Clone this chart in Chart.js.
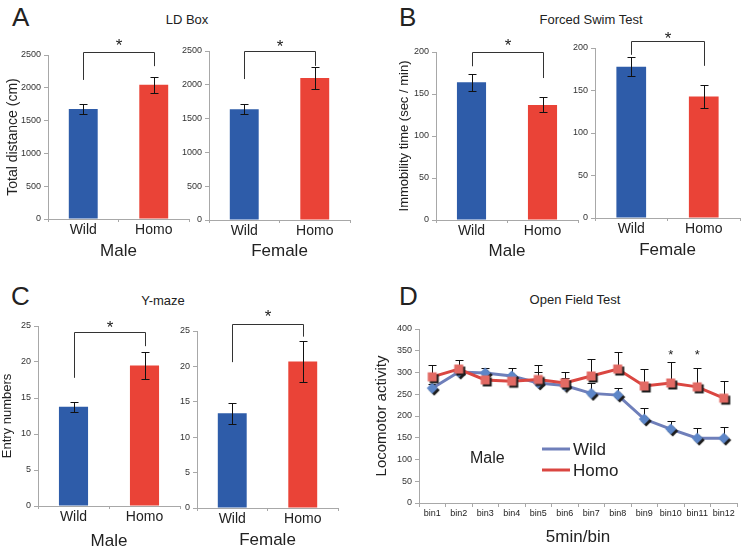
<!DOCTYPE html>
<html>
<head>
<meta charset="utf-8">
<script src="https://cdn.jsdelivr.net/npm/chart.js@4.4.1/dist/chart.umd.min.js"></script>
<style>
  body { margin: 0; background: #fff; }
  #fig { position: relative; width: 745px; height: 552px; overflow: hidden;
         font-family: 'Liberation Sans', Arial, sans-serif; color: #222; }
  #fig canvas { position: absolute; }
  .letter { position: absolute; font-size: 26px; line-height: 1; }
  .title { position: absolute; font-size: 13px; transform: translate(-50%, -50%); white-space: nowrap; }
</style>
</head>
<body>
<div id="fig">
  <div class="letter" style="left:12px;top:4px">A</div>
  <div class="letter" style="left:399px;top:4px">B</div>
  <div class="letter" style="left:11px;top:283px">C</div>
  <div class="letter" style="left:399px;top:283px">D</div>
  <div class="title" style="left:187px;top:19px">LD Box</div>
  <div class="title" style="left:591px;top:19px">Forced Swim Test</div>
  <div class="title" style="left:163px;top:300px">Y-maze</div>
  <div class="title" style="left:575px;top:299px">Open Field Test</div>

  <canvas id="ld-male"></canvas>
  <canvas id="ld-female"></canvas>
  <canvas id="fst-male"></canvas>
  <canvas id="fst-female"></canvas>
  <canvas id="ym-male"></canvas>
  <canvas id="ym-female"></canvas>
  <canvas id="oft"></canvas>
</div>
<script>
'use strict';

// ─── data ─────────────────────────────────────────────────────
const groups = ['Wild', 'Homo'];

const ldMale      = [1675, 2045];
const ldMaleErr   = [80, 120];
const ldFemale    = [1640, 2100];
const ldFemaleErr = [75, 160];

const fstMale      = [164, 137];
const fstMaleErr   = [10, 9];
const fstFemale    = [178, 143];
const fstFemaleErr = [11, 13];

const ymMale      = [13.8, 19.5];
const ymMaleErr   = [0.7, 1.9];
const ymFemale    = [13.4, 20.7];
const ymFemaleErr = [1.5, 2.9];

// significance brackets: [bar top, left leg end, right leg end, star]
const ldMaleSig    = [2550, 2120, 2330, 2700];
const ldFemaleSig  = [2500, 2085, 2280, 2630];
const fstMaleSig   = [200, 183, 169, 212];
const fstFemaleSig = [208, 192, 179, 216];
const ymMaleSig    = [24.2, 17.8, 22.2, 25.3];
const ymFemaleSig  = [26.0, 20.6, 24.2, 27.6];

const bins       = ['bin1', 'bin2', 'bin3', 'bin4', 'bin5', 'bin6', 'bin7', 'bin8', 'bin9', 'bin10', 'bin11', 'bin12'];
const oftWild    = [264, 301, 299, 292, 276, 270, 252, 248, 193, 170, 149, 149];
const oftWildErr = [10, 8, 11, 18, 25, 18, 25, 16, 25, 19, 23, 26];
const oftHomo    = [290, 308, 283, 280, 284, 276, 292, 308, 269, 276, 267, 241];
const oftHomoErr = [27, 21, 15, 15, 34, 25, 39, 39, 39, 48, 43, 39];
const oftSigBins = ['bin10', 'bin11'];
const oftSigLevel = 347;

// ─── styling ──────────────────────────────────────────────────
const FONT = "'Liberation Sans', Arial, sans-serif";
const BLUE = '#2e5ca9';
const RED  = '#ea4337';
const AXIS = '#a8a8a8';

Chart.defaults.font.family = FONT;
Chart.defaults.color = '#222';
Chart.defaults.animation = false;

// ─── plugins ──────────────────────────────────────────────────
function drawErrors(chart, opts) {
  const { ctx } = chart;
  const y = chart.scales.y;
  ctx.save();
  ctx.strokeStyle = '#111';
  ctx.lineWidth = 1;
  chart.data.datasets.forEach((ds, di) => {
    if (!ds.errors) return;
    chart.getDatasetMeta(di).data.forEach((el, i) => {
      const v = ds.data[i], e = ds.errors[i];
      const x = Math.round(el.x) + 0.5;
      const top = Math.round(y.getPixelForValue(v + e)) + 0.5;
      const bot = Math.round(y.getPixelForValue(opts.upOnly ? v : v - e)) + 0.5;
      ctx.beginPath();
      ctx.moveTo(x, bot);
      ctx.lineTo(x, top);
      ctx.moveTo(x - opts.cap, top);
      ctx.lineTo(x + opts.cap, top);
      if (!opts.upOnly) {
        ctx.moveTo(x - opts.cap, bot);
        ctx.lineTo(x + opts.cap, bot);
      }
      ctx.stroke();
    });
  });
  ctx.restore();
}

const errorBars = {
  id: 'errorBars',
  beforeDatasetsDraw(chart, args, opts) { if (opts.behind) drawErrors(chart, opts); },
  afterDatasetsDraw(chart, args, opts) { if (!opts.behind) drawErrors(chart, opts); },
};

function drawStar(ctx, x, y, size) {
  ctx.font = `${size}px ${FONT}`;
  ctx.textAlign = 'center';
  ctx.textBaseline = 'alphabetic';
  ctx.fillStyle = '#222';
  ctx.fillText('*', x, y + size * 0.56);
}

const sigBracket = {
  id: 'sigBracket',
  afterDraw(chart, args, opts) {
    if (!opts.levels) return;
    const [top, leftEnd, rightEnd, star] = opts.levels;
    const { ctx } = chart;
    const x = chart.scales.x, y = chart.scales.y;
    const x0 = Math.round(x.getPixelForValue(0)) + 0.5;
    const x1 = Math.round(x.getPixelForValue(1)) + 0.5;
    const yt = Math.round(y.getPixelForValue(top)) + 0.5;
    ctx.save();
    ctx.strokeStyle = '#333';
    ctx.lineWidth = 1;
    ctx.beginPath();
    ctx.moveTo(x0, y.getPixelForValue(leftEnd));
    ctx.lineTo(x0, yt);
    ctx.lineTo(x1, yt);
    ctx.lineTo(x1, y.getPixelForValue(rightEnd));
    ctx.stroke();
    drawStar(ctx, (x0 + x1) / 2, y.getPixelForValue(star), 17);
    ctx.restore();
  },
};

const sigStars = {
  id: 'sigStars',
  afterDraw(chart, args, opts) {
    if (!opts.bins) return;
    const { ctx } = chart;
    ctx.save();
    opts.bins.forEach(b => {
      drawStar(ctx, chart.scales.x.getPixelForValue(bins.indexOf(b)),
        chart.scales.y.getPixelForValue(opts.level), 13);
    });
    ctx.restore();
  },
};

const inlineLegend = {
  id: 'inlineLegend',
  afterDraw(chart, args, opts) {
    const { ctx, chartArea: a } = chart;
    ctx.save();
    ctx.textBaseline = 'middle';
    ctx.textAlign = 'left';
    ctx.fillStyle = '#222';
    chart.data.datasets.forEach((ds, i) => {
      const yy = a.top + opts.y + i * opts.gap;
      const xx = a.left + opts.x;
      ctx.strokeStyle = ds.borderColor;
      ctx.lineWidth = 3;
      ctx.beginPath();
      ctx.moveTo(xx, yy);
      ctx.lineTo(xx + 28, yy);
      ctx.stroke();
      ctx.font = `17px ${FONT}`;
      ctx.fillText(ds.label, xx + 31, yy + 1);
    });
    ctx.font = `16px ${FONT}`;
    ctx.fillText(opts.note, a.left + opts.noteX, a.top + opts.noteY);
    ctx.restore();
  },
};

// ─── helpers ──────────────────────────────────────────────────
function place(id, box) {
  const cv = document.getElementById(id);
  cv.width = box[2];
  cv.height = box[3];
  cv.style.left = box[0] + 'px';
  cv.style.top = box[1] + 'px';
  return cv;
}

function markerImage(shape, fill) {
  const c = document.createElement('canvas');
  c.width = 16;
  c.height = 16;
  const g = c.getContext('2d');
  const path = (dx) => {
    g.beginPath();
    if (shape === 'square') {
      g.rect(3.5 + dx, 3.5 + dx, 9, 9);
    } else {
      g.moveTo(8 + dx, 2.5 + dx);
      g.lineTo(13.5 + dx, 8 + dx);
      g.lineTo(8 + dx, 13.5 + dx);
      g.lineTo(2.5 + dx, 8 + dx);
      g.closePath();
    }
  };
  path(2);
  g.fillStyle = '#1c1c1c';
  g.fill();
  path(0);
  g.fillStyle = fill;
  g.fill();
  return c;
}

const plainTick = v => String(v);

// box = [left, top, width, height] of the canvas, area = [left, top, right, bottom] of the plot
function barPanel(id, box, area, values, errors, sig, o) {
  const [bx, by, bw, bh] = box;
  const [l, t, r, b] = area;
  return new Chart(place(id, box), {
    type: 'bar',
    data: {
      labels: groups,
      datasets: [{
        data: values,
        errors,
        backgroundColor: [BLUE, RED],
        borderWidth: 0,
        barPercentage: 0.41,
        categoryPercentage: 1,
      }],
    },
    options: {
      responsive: false,
      layout: { padding: { left: 0, top: t - by, right: bx + bw - r, bottom: 0 } },
      plugins: {
        legend: { display: false },
        tooltip: { enabled: false },
        errorBars: { cap: 4 },
        sigBracket: { levels: sig },
      },
      scales: {
        x: {
          grid: { drawOnChartArea: false, tickLength: 3, color: AXIS },
          border: { color: AXIS },
          ticks: { font: { size: 14 }, padding: 0, color: '#222', maxRotation: 0 },
          title: { display: true, text: o.sex, font: { size: 17 }, padding: 0, color: '#222' },
          afterFit: s => { s.height = by + bh - b; },
        },
        y: {
          min: 0,
          max: o.max,
          ticks: { stepSize: o.step, font: { size: 9 }, padding: 3, color: '#333', callback: plainTick },
          grid: { drawOnChartArea: false, tickLength: 4, color: AXIS },
          border: { color: AXIS },
          title: {
            display: !!o.yTitle,
            text: o.yTitle || '',
            font: { size: o.yTitleSize || 13 },
            padding: { top: o.yTitlePad || 0, bottom: 0 },
            color: '#222',
          },
          afterFit: s => { s.width = l - bx; },
        },
      },
    },
    plugins: [errorBars, sigBracket],
  });
}

// ─── A : LD box ───────────────────────────────────────────────
barPanel('ld-male', [0, 30, 196, 232], [48, 55, 189, 219], ldMale, ldMaleErr, ldMaleSig,
  { sex: 'Male', max: 2500, step: 500, yTitle: 'Total distance (cm)', yTitleSize: 14, yTitlePad: 5 });
barPanel('ld-female', [176, 30, 194, 232], [209, 51, 350, 220], ldFemale, ldFemaleErr, ldFemaleSig,
  { sex: 'Female', max: 2500, step: 500 });

// ─── B : forced swim test ─────────────────────────────────────
barPanel('fst-male', [390, 30, 200, 232], [436, 52, 578, 220], fstMale, fstMaleErr, fstMaleSig,
  { sex: 'Male', max: 200, step: 50, yTitle: 'Immobility time (sec / min)', yTitleSize: 13, yTitlePad: 7 });
barPanel('fst-female', [562, 26, 183, 235], [595, 48, 740, 218], fstFemale, fstFemaleErr, fstFemaleSig,
  { sex: 'Female', max: 200, step: 50 });

// ─── C : Y-maze ───────────────────────────────────────────────
barPanel('ym-male', [0, 305, 190, 247], [38, 326, 180, 506], ymMale, ymMaleErr, ymMaleSig,
  { sex: 'Male', max: 25, step: 5, yTitle: 'Entry numbers', yTitleSize: 13, yTitlePad: 0 });
barPanel('ym-female', [165, 300, 205, 251], [197, 331, 338, 508], ymFemale, ymFemaleErr, ymFemaleSig,
  { sex: 'Female', max: 25, step: 5 });

// ─── D : open field test ──────────────────────────────────────
(function renderOpenField() {
  const box = [370, 310, 375, 238];
  const area = [419, 329, 743, 503];
  const [bx, by, bw, bh] = box;
  const [l, t, r, b] = area;
  new Chart(place('oft', box), {
    type: 'line',
    data: {
      labels: bins,
      datasets: [
        {
          label: 'Wild',
          data: oftWild,
          errors: oftWildErr,
          borderColor: '#6f7fba',
          borderWidth: 3,
          pointStyle: markerImage('diamond', '#5d86c8'),
          pointRadius: 5,
          order: 1,
        },
        {
          label: 'Homo',
          data: oftHomo,
          errors: oftHomoErr,
          borderColor: '#da4641',
          borderWidth: 3,
          pointStyle: markerImage('square', '#e26a64'),
          pointRadius: 5,
          order: 0,
        },
      ],
    },
    options: {
      responsive: false,
      layout: { padding: { left: 0, top: t - by, right: bx + bw - r, bottom: 0 } },
      plugins: {
        legend: { display: false },
        tooltip: { enabled: false },
        errorBars: { cap: 4, upOnly: true, behind: true },
        sigStars: { bins: oftSigBins, level: oftSigLevel },
        inlineLegend: { x: 123, y: 120, gap: 21, note: 'Male', noteX: 51, noteY: 130 },
      },
      scales: {
        x: {
          offset: true,
          grid: { offset: true, drawOnChartArea: false, tickLength: 4, color: AXIS },
          border: { color: AXIS },
          ticks: { font: { size: 9 }, padding: 1, color: '#222', maxRotation: 0, autoSkip: false },
          title: { display: true, text: '5min/bin', font: { size: 17 }, padding: 0, color: '#222' },
          afterFit: s => { s.height = by + bh - b; },
        },
        y: {
          min: 0,
          max: 400,
          ticks: { stepSize: 50, font: { size: 9 }, padding: 3, color: '#333', callback: plainTick },
          grid: { drawOnChartArea: false, tickLength: 4, color: AXIS },
          border: { color: AXIS },
          title: { display: true, text: 'Locomotor activity', font: { size: 15 }, padding: { top: 3, bottom: 0 }, color: '#222' },
          afterFit: s => { s.width = l - bx; },
        },
      },
    },
    plugins: [errorBars, sigStars, inlineLegend],
  });
})();
</script>
</body>
</html>
